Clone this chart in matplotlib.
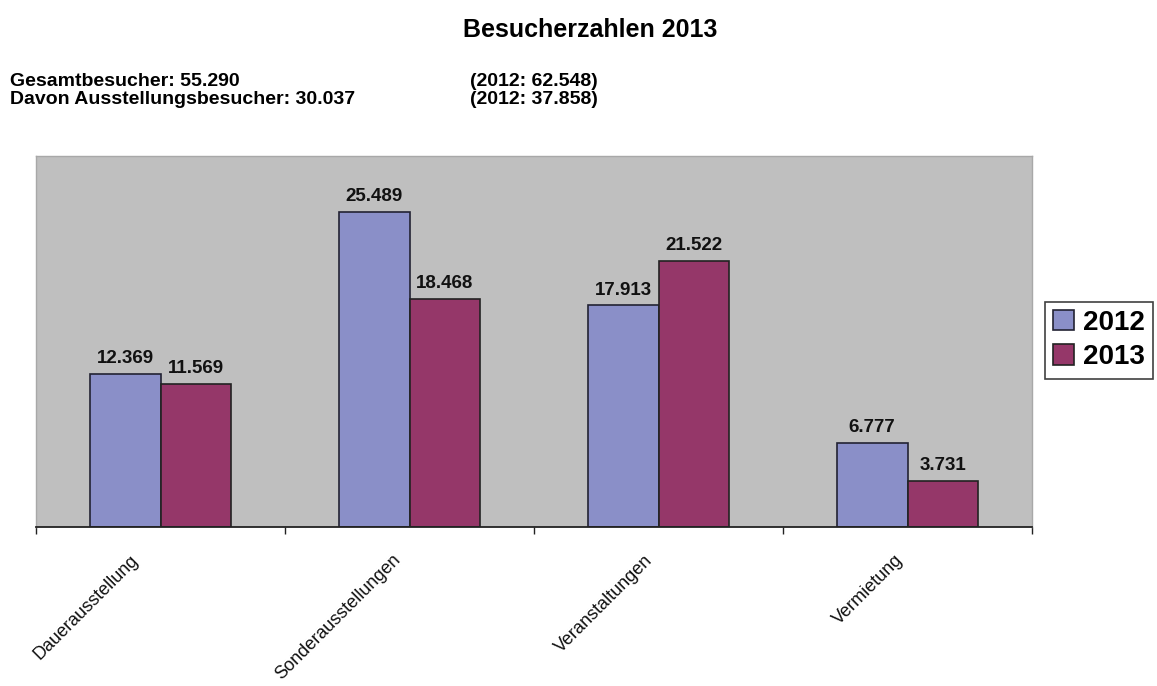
import matplotlib
matplotlib.use("Agg")
import matplotlib.pyplot as plt
import numpy as np

plt.rcParams['font.family'] = ['Liberation Sans', 'DejaVu Sans']

categories = ["Dauerausstellung", "Sonderausstellungen", "Veranstaltungen", "Vermietung"]
series_names = ["2012", "2013"]
values_2012 = [12369, 25489, 17913, 6777]
values_2013 = [11569, 18468, 21522, 3731]
value_labels_2012 = ["12.369", "25.489", "17.913", "6.777"]
value_labels_2013 = ["11.569", "18.468", "21.522", "3.731"]

title = "Besucherzahlen 2013"
info_left = ["Gesamtbesucher: 55.290", "Davon Ausstellungsbesucher: 30.037"]
info_right = ["(2012: 62.548)", "(2012: 37.858)"]

col_2012 = "#8A8FC8"
col_2013 = "#953769"

fig = plt.figure(figsize=(11.57, 6.86), dpi=100)
ax = fig.add_axes([36/1157, 1-527/686, (1032-36)/1157, (527-156)/686])
ax.set_facecolor("#BFBFBF")

x = np.arange(len(categories))
w = 0.285
b1 = ax.bar(x - w/2, values_2012, w, color=col_2012, edgecolor="#222233", linewidth=1.2, label=series_names[0])
b2 = ax.bar(x + w/2, values_2013, w, color=col_2013, edgecolor="#222222", linewidth=1.2, label=series_names[1])

for rects, labs in ((b1, value_labels_2012), (b2, value_labels_2013)):
    for r, lab in zip(rects, labs):
        ax.annotate(lab, (r.get_x() + r.get_width()/2, r.get_height()),
                    xytext=(0, 5), textcoords="offset points", ha="center", va="bottom",
                    fontsize=13.5, fontweight="bold", color="#111111")

ax.set_xlim(-0.5, len(categories) - 0.5)
ax.set_ylim(0, 30000)
ax.set_yticks([])
ax.set_xticks(np.arange(-0.5, len(categories)), minor=False)
ax.set_xticklabels([])
ax.tick_params(axis="x", direction="out", length=5, width=1, color="#222222")

label_dx = [-18, -8, -6, -5]
for i, c in enumerate(categories):
    ax.annotate(c, (i, 0), xytext=(label_dx[i], -22), textcoords="offset points",
                ha="right", va="center", rotation=45, rotation_mode="anchor",
                fontsize=13, color="#111111", annotation_clip=False)

for s in ("top", "left", "right"):
    ax.spines[s].set_color("#A8A8A8")
    ax.spines[s].set_linewidth(1.0)
ax.spines["bottom"].set_color("#222222")
ax.spines["bottom"].set_linewidth(1.3)

fig.text(590/1157, 1-30/686, title, ha="center", va="center", fontsize=18, fontweight="bold")
for k, (l, r) in enumerate(zip(info_left, info_right)):
    y = 1 - (81 + 18.5*k)/686
    fig.text(10/1157, y, l, ha="left", va="center", fontsize=14, fontweight="bold")
    fig.text(470/1157, y, r, ha="left", va="center", fontsize=14, fontweight="bold")

leg = fig.legend(loc="center left", bbox_to_anchor=(1045/1157, 1-340/686),
                 prop={"weight": "bold", "size": 20}, frameon=True, fancybox=False,
                 handlelength=0.75, handleheight=0.75, handletextpad=0.3,
                 borderpad=0.3, labelspacing=0.3, borderaxespad=0)
leg.get_frame().set_edgecolor("#111111")
leg.get_frame().set_linewidth(1.2)

fig.savefig("out.png", dpi=100)
